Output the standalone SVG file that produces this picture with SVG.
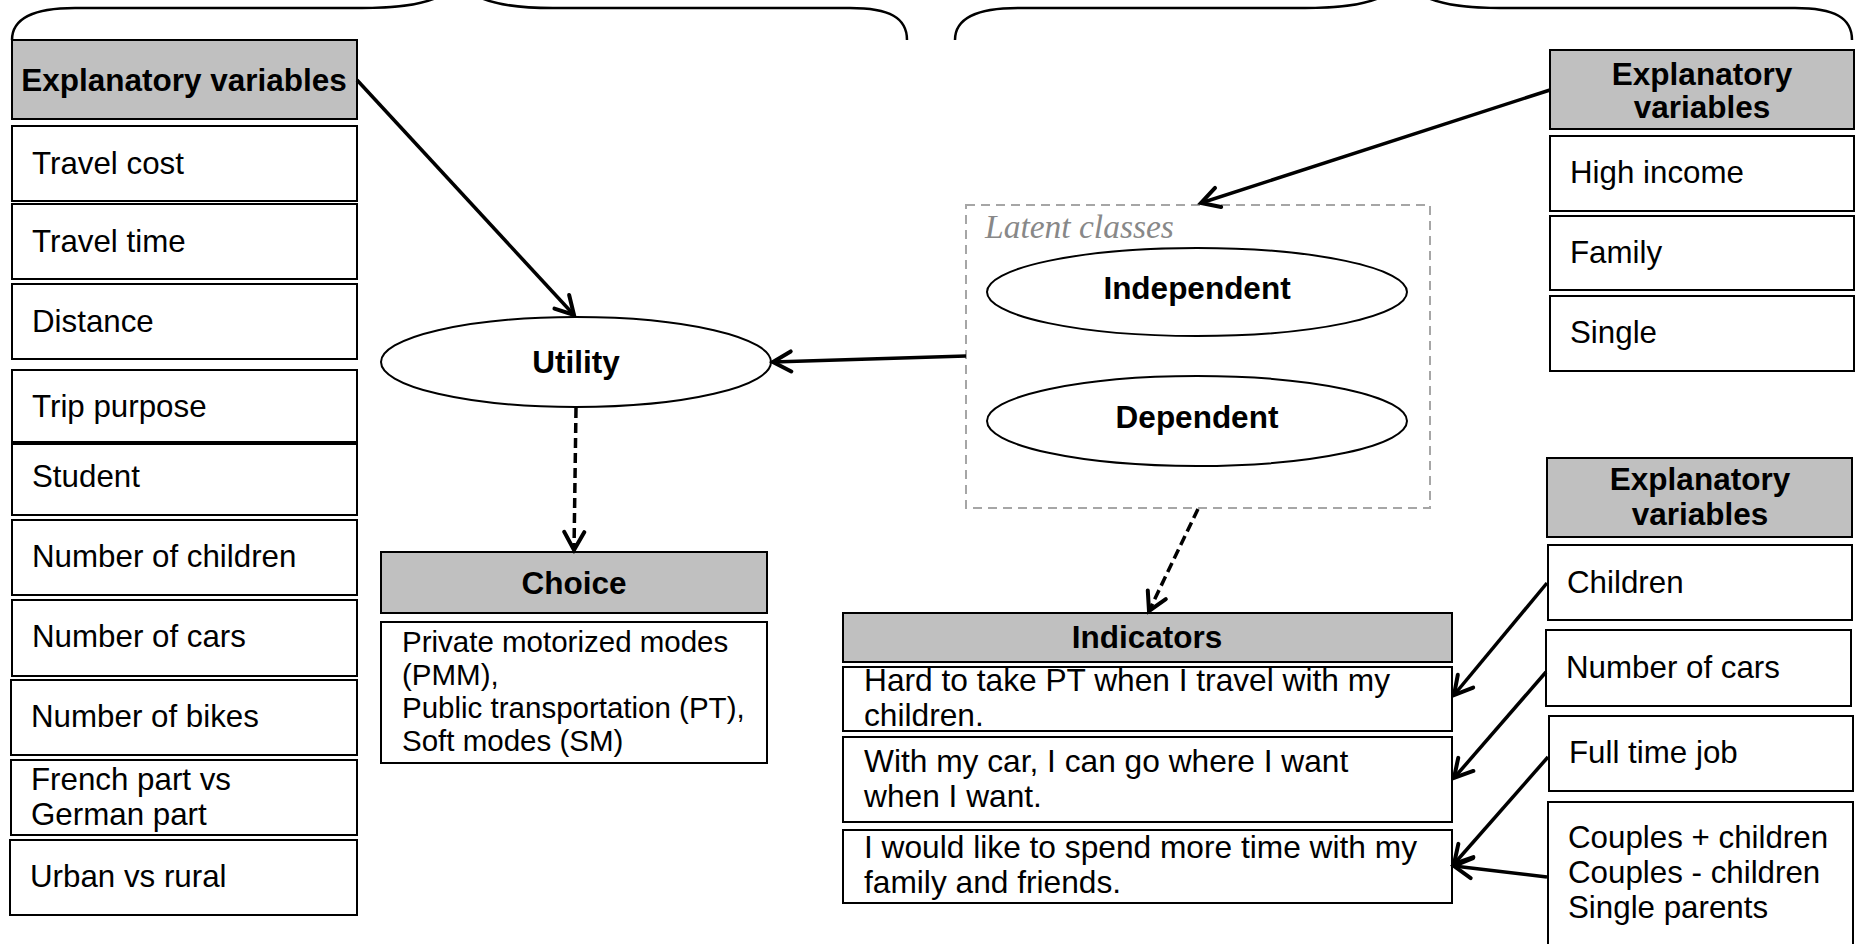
<svg xmlns="http://www.w3.org/2000/svg" width="1858" height="944" viewBox="0 0 1858 944">
  <style>
    .box { fill: #ffffff; stroke: #000000; stroke-width: 2; }
    .head { fill: #c0c0c0; stroke: #000000; stroke-width: 2; }
    .ell { fill: #ffffff; stroke: #000000; stroke-width: 2; }
    .latent { fill: none; stroke: #a6a6a6; stroke-width: 2; stroke-dasharray: 9 6; }
    .brace { fill: none; stroke: #000000; stroke-width: 2.5; }
    .t { font-family: "Liberation Sans", Arial, sans-serif; font-size: 31.3px; fill: #000000; }
    .ts { font-family: "Liberation Sans", Arial, sans-serif; font-size: 29.5px; fill: #000000; }
    .ti { font-family: "Liberation Sans", Arial, sans-serif; font-size: 31.7px; fill: #000000; }
    .b { font-family: "Liberation Sans", Arial, sans-serif; font-size: 31.5px; font-weight: bold; fill: #000000; text-anchor: middle; }
    .lc { font-family: "Liberation Serif", "Times New Roman", serif; font-size: 33.5px; font-style: italic; fill: #888888; }
    .solid { fill: none; stroke: #000000; stroke-width: 3.5; marker-end: url(#arrow); }
    .dash { fill: none; stroke: #000000; stroke-width: 3.5; stroke-dasharray: 10 5; marker-end: url(#arrow); }
  </style>
  <defs>
    <marker id="arrow" viewBox="-24 -14 28 28" refX="0" refY="0" markerWidth="28" markerHeight="28" markerUnits="userSpaceOnUse" orient="auto">
      <path d="M-18,-10 L0,0 L-18,10" fill="none" stroke="#000000" stroke-width="4" stroke-linecap="round" stroke-linejoin="miter"/>
    </marker>
  </defs>

  <!-- curly braces along the top edge -->
  <g id="braces">
    <path class="brace" d="M12,40 C12,18 35,8 75,8 L362,8 C400,8 425,4 440,-4"/>
    <path class="brace" d="M477,-4 C492,4 515,8 553,8 L850,8 C890,8 907,18 907,40"/>
    <path class="brace" d="M955,40 C955,18 978,8 1018,8 L1305,8 C1343,8 1368,4 1383,-4"/>
    <path class="brace" d="M1424,-4 C1439,4 1462,8 1500,8 L1795,8 C1835,8 1852,18 1852,40"/>
  </g>

  <!-- left column: explanatory variables of the choice model -->
  <g id="explanatory-left">
    <rect class="head" x="12" y="40" width="345" height="79"/>
    <text class="b" x="184" y="91">Explanatory variables</text>
    <rect class="box" x="12" y="126" width="345" height="75"/>
    <text class="t" x="32" y="174">Travel cost</text>
    <rect class="box" x="12" y="204" width="345" height="75"/>
    <text class="t" x="32" y="252">Travel time</text>
    <rect class="box" x="12" y="284" width="345" height="75"/>
    <text class="t" x="32" y="332">Distance</text>
    <rect class="box" x="12" y="370" width="345" height="72"/>
    <text class="t" x="32" y="417">Trip purpose</text>
    <rect class="box" x="12" y="444" width="345" height="71"/>
    <text class="t" x="32" y="487">Student</text>
    <rect class="box" x="12" y="520" width="345" height="75"/>
    <text class="t" x="32" y="567">Number of children</text>
    <rect class="box" x="12" y="600" width="345" height="76"/>
    <text class="t" x="32" y="647">Number of cars</text>
    <rect class="box" x="11" y="680" width="346" height="75"/>
    <text class="t" x="31" y="727">Number of bikes</text>
    <rect class="box" x="11" y="760" width="346" height="75"/>
    <text class="t" x="31" y="790">French part vs</text>
    <text class="t" x="31" y="825">German part</text>
    <rect class="box" x="10" y="840" width="347" height="75"/>
    <text class="t" x="30" y="887">Urban vs rural</text>
  </g>

  <!-- utility ellipse -->
  <g id="utility">
    <ellipse class="ell" cx="576" cy="362" rx="195" ry="45"/>
    <text class="b" x="576" y="373">Utility</text>
  </g>

  <!-- choice block -->
  <g id="choice">
    <rect class="head" x="381" y="552" width="386" height="61"/>
    <text class="b" x="574" y="594">Choice</text>
    <rect class="box" x="381" y="622" width="386" height="141"/>
    <text class="ts" x="402" y="652">Private motorized modes</text>
    <text class="ts" x="402" y="685">(PMM),</text>
    <text class="ts" x="402" y="718">Public transportation (PT),</text>
    <text class="ts" x="402" y="751">Soft modes (SM)</text>
  </g>

  <!-- latent classes container -->
  <g id="latent-classes">
    <rect class="latent" x="966" y="205" width="464" height="303"/>
    <text class="lc" x="985" y="238">Latent classes</text>
    <g id="independent">
      <ellipse class="ell" cx="1197" cy="292" rx="210" ry="44"/>
      <text class="b" x="1197" y="299">Independent</text>
    </g>
    <g id="dependent">
      <ellipse class="ell" cx="1197" cy="421" rx="210" ry="45"/>
      <text class="b" x="1197" y="428">Dependent</text>
    </g>
  </g>

  <!-- indicators block -->
  <g id="indicators">
    <rect class="head" x="843" y="613" width="609" height="49"/>
    <text class="b" x="1147" y="648">Indicators</text>
    <rect class="box" x="843" y="667" width="609" height="64"/>
    <text class="ti" x="864" y="691">Hard to take PT when I travel with my</text>
    <text class="ti" x="864" y="726">children.</text>
    <rect class="box" x="843" y="737" width="609" height="85"/>
    <text class="ti" x="864" y="772">With my car, I can go where I want</text>
    <text class="ti" x="864" y="807">when I want.</text>
    <rect class="box" x="843" y="830" width="609" height="73"/>
    <text class="ti" x="864" y="858">I would like to spend more time with my</text>
    <text class="ti" x="864" y="893">family and friends.</text>
  </g>

  <!-- right column, top: class membership variables -->
  <g id="explanatory-class">
    <rect class="head" x="1550" y="50" width="304" height="79"/>
    <text class="b" x="1702" y="85">Explanatory</text>
    <text class="b" x="1702" y="118">variables</text>
    <rect class="box" x="1550" y="136" width="304" height="75"/>
    <text class="t" x="1570" y="183">High income</text>
    <rect class="box" x="1550" y="216" width="304" height="74"/>
    <text class="t" x="1570" y="263">Family</text>
    <rect class="box" x="1550" y="296" width="304" height="75"/>
    <text class="t" x="1570" y="343">Single</text>
  </g>

  <!-- right column, bottom: indicator variables -->
  <g id="explanatory-indicators">
    <rect class="head" x="1547" y="458" width="305" height="79"/>
    <text class="b" x="1700" y="490">Explanatory</text>
    <text class="b" x="1700" y="525">variables</text>
    <rect class="box" x="1548" y="545" width="304" height="75"/>
    <text class="t" x="1567" y="593">Children</text>
    <rect class="box" x="1546" y="630" width="305" height="76"/>
    <text class="t" x="1566" y="678">Number of cars</text>
    <rect class="box" x="1549" y="716" width="304" height="75"/>
    <text class="t" x="1569" y="763">Full time job</text>
    <rect class="box" x="1548" y="802" width="305" height="160"/>
    <text class="t" x="1568" y="848">Couples + children</text>
    <text class="t" x="1568" y="883">Couples - children</text>
    <text class="t" x="1568" y="918">Single parents</text>
  </g>

  <!-- connectors -->
  <g id="connectors">
    <line class="solid" x1="357" y1="80" x2="574" y2="315"/>
    <line class="dash" x1="576" y1="408" x2="574" y2="550"/>
    <line class="solid" x1="966" y1="356" x2="773" y2="362"/>
    <line class="solid" x1="1550" y1="90" x2="1201" y2="203"/>
    <line class="dash" x1="1198" y1="509" x2="1149" y2="611"/>
    <line class="solid" x1="1547" y1="583" x2="1454" y2="695"/>
    <line class="solid" x1="1546" y1="672" x2="1454" y2="778"/>
    <line class="solid" x1="1548" y1="757" x2="1454" y2="864"/>
    <line class="solid" x1="1547" y1="877" x2="1454" y2="866"/>
  </g>
</svg>
